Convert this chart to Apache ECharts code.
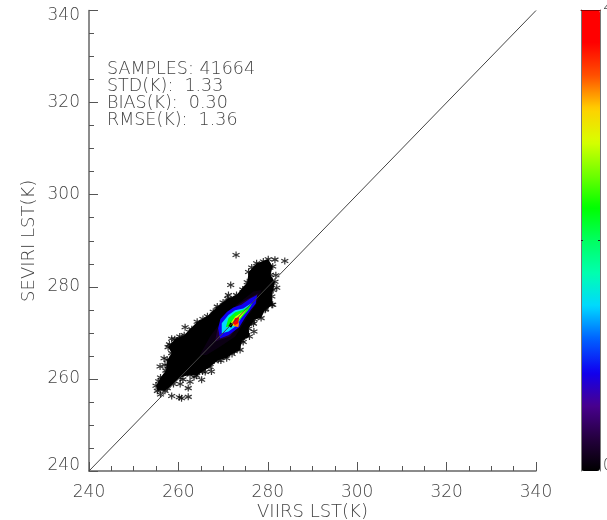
<!DOCTYPE html>
<html>
<head>
<meta charset="utf-8">
<style>
html, body { margin: 0; padding: 0; background: #fff; overflow: hidden; }
#chart { width: 607px; height: 520px; }
</style>
<script src="https://cdn.jsdelivr.net/npm/echarts@6/dist/echarts.min.js"></script>
</head>
<body>
<div id="chart"></div>
<script>
const statLines = ["SAMPLES: 41664", "STD(K):  1.33", "BIAS(K):  0.30", "RMSE(K):  1.36"];
const onePerOne = [[240, 240], [340, 340]];

// outer edge of the black cloud
const cloudEdge = [
    [277.5, 285.1], [280.1, 286.0], [281.1, 284.4], [280.6, 282.6], [281.6, 281.1], [281.2, 279.3],
    [280.9, 277.9], [281.1, 276.1], [279.4, 275.0], [278.5, 273.2], [277.0, 272.9], [275.7, 270.9],
    [275.9, 269.2], [274.2, 268.3], [273.8, 266.3], [272.0, 265.4], [270.8, 264.5], [268.9, 264.1],
    [267.1, 262.6], [265.4, 261.6], [264.1, 260.7], [262.6, 260.9], [260.4, 260.3], [258.9, 258.9],
    [257.0, 257.4], [255.3, 257.4], [255.0, 258.5], [256.0, 260.3], [257.2, 261.8], [257.5, 264.1],
    [258.5, 265.6], [257.7, 266.9], [259.2, 268.6], [261.3, 269.5], [264.2, 272.4], [266.5, 273.6],
    [268.7, 275.7], [271.0, 277.4], [273.0, 278.2], [275.4, 281.0], [275.7, 283.2]
];
const strayStars = [
    [272.9, 286.9], [283.8, 285.6], [281.6, 285.9], [271.7, 280.4], [271.2, 278.2], [261.5, 271.2],
    [258.5, 268.7], [255.9, 262.7], [256.8, 264.5], [276.9, 270.3], [280.9, 276.1], [262.6, 259.4],
    [262.2, 258.0], [260.4, 258.9], [262.2, 256.1], [260.2, 256.0], [258.5, 256.3], [260.7, 255.8],
    [265.2, 259.8], [267.4, 261.6], [279.0, 285.5], [281.8, 282.5], [282.0, 279.8], [279.5, 275.2],
    [276.8, 272.0], [274.5, 268.0], [272.5, 266.0], [269.5, 264.0], [266.0, 261.5], [263.5, 260.4],
    [261.0, 259.9], [257.5, 258.0], [256.0, 256.6], [255.6, 259.5], [257.0, 263.0], [258.0, 267.5],
    [260.3, 269.2], [263.0, 270.8], [265.5, 273.0], [267.8, 274.6], [270.0, 276.6], [274.4, 279.4],
    [276.4, 284.2], [278.5, 284.0], [279.6, 280.5], [280.2, 277.3], [277.6, 274.5], [276.4, 272.3],
    [274.8, 269.7], [272.6, 267.1], [270.2, 265.3], [268.0, 264.0], [266.0, 262.8], [264.5, 261.8],
    [262.0, 261.4], [260.0, 261.0], [258.2, 260.0], [256.6, 258.4], [257.8, 262.8], [258.8, 264.6],
    [258.6, 267.2], [260.2, 268.6], [262.5, 270.2], [264.8, 271.8], [267.0, 273.2], [269.2, 275.2],
    [271.5, 276.8], [273.6, 277.8], [275.2, 279.6], [276.6, 282.0], [277.8, 283.8]
];

const haloOuter = [
    [264.8, 265.2], [267.1, 269.2], [269.3, 272.1], [273.0, 276.1], [276.8, 279.0], [278.6, 279.3],
    [277.5, 276.4], [275.3, 273.2], [272.7, 269.2], [269.3, 267.0], [266.3, 265.2]
];
const haloInner = [
    [268.2, 268.1], [268.7, 270.6], [271.2, 274.6], [274.5, 276.8], [277.9, 278.6], [276.8, 276.4],
    [274.5, 272.8], [271.5, 269.2]
];
const blueZone = [
    [269.3, 268.8], [268.9, 271.0], [269.4, 273.0], [270.9, 274.6], [272.3, 275.5], [274.1, 276.1],
    [276.0, 277.4], [277.6, 278.2], [277.3, 276.3], [276.2, 275.0], [274.9, 273.3], [273.6, 271.2], [271.2, 269.5]
];
const cyanZone = [
    [269.7, 269.9], [269.7, 272.1], [271.2, 273.9], [272.7, 274.9], [274.5, 275.3], [276.6, 276.6],
    [275.8, 275.3], [274.3, 273.7], [273.2, 271.7], [271.2, 270.3]
];
const greenZone = [
    [270.6, 271.2], [271.2, 273.2], [272.7, 274.5], [274.5, 275.0], [276.4, 276.2], [275.5, 274.8],
    [273.8, 272.9], [272.5, 271.6]
];
const yellowZone = [[271.4, 271.7], [272.7, 273.5], [275.3, 275.1], [273.8, 273.2], [272.4, 271.5]];
const orangeZone = [[272.4, 271.5], [273.4, 271.2], [273.6, 272.2], [272.3, 272.2]];
const redZone = [[272.1, 272.1], [272.7, 273.2], [273.6, 273.4], [273.4, 272.1], [272.7, 271.7]];
const blackSpot = [[271.2, 271.5], [271.7, 272.3], [272.2, 271.8], [271.8, 271.1]];

const densityZones = [cloudEdge, haloOuter, haloInner, blueZone, cyanZone, greenZone, yellowZone, orangeZone, redZone, blackSpot];
const densityLevels = [0, 0.15, 0.45, 1.5, 2.5, 3.9, 5.0, 5.8, 6.5, 0];

const barColors = [
    "#000000", "#25003f", "#480090", "#1000f0", "#0060ff", "#00d8ff", "#00ffb0", "#00ff60",
    "#00ff00", "#70ff00", "#d8ff00", "#ffd000", "#ff5000", "#ff0000", "#ff0000"
];
const barMin = 0;
const barMax = 7;
const barMidTick = [3.5];
const barEnds = [0, 7];
// only the left edge of the top label shows in the window
const barEndLabels = { 0: "0", 7: "2" };

const textColor = "#444";
const axisFont = "'DejaVu Sans Light', 'DejaVu Sans'";
const asterisk = "path://M0,-5L0,5M-4.33,-2.5L4.33,2.5M-4.33,2.5L4.33,-2.5";

const chart = echarts.init(document.getElementById("chart"));

function plotAxis(name, gap) {
    return {
        type: "value",
        min: 240,
        max: 340,
        interval: 20,
        name: name,
        nameLocation: "middle",
        nameGap: gap,
        nameMoveOverlap: false,
        nameTextStyle: { color: textColor, fontFamily: axisFont, fontSize: 18 },
        splitLine: { show: false },
        axisLine: { onZero: false, lineStyle: { color: "#666", width: 1.5 } },
        axisTick: { inside: true, length: 9, lineStyle: { color: "#555" } },
        minorTick: { show: true, splitNumber: 4, length: 5, lineStyle: { color: "#555" } },
        axisLabel: { color: textColor, fontFamily: axisFont, fontSize: 17, margin: 9 }
    };
}

function barSideAxis(position, showLabel) {
    return {
        type: "value",
        gridIndex: 1,
        position: position,
        min: barMin,
        max: barMax,
        z: 6,
        splitLine: { show: false },
        axisLine: { onZero: false, lineStyle: { color: "#777", width: 1 } },
        axisTick: { inside: true, length: 2, customValues: barMidTick, lineStyle: { color: "#222" } },
        axisLabel: {
            show: showLabel,
            customValues: barEnds,
            color: textColor,
            fontFamily: axisFont,
            fontSize: 15,
            lineHeight: 10,
            margin: 3,
            align: "left",
            verticalAlign: "bottom",
            formatter: v => barEndLabels[v]
        }
    };
}

function barEndAxis(position, color) {
    return {
        type: "value",
        gridIndex: 1,
        position: position,
        min: 0,
        max: 1,
        z: 6,
        splitLine: { show: false },
        axisLine: { onZero: false, lineStyle: { color: color, width: 1 } },
        axisTick: { show: false },
        axisLabel: { show: false }
    };
}

const plotX = plotAxis("VIIRS LST(K)", 32);
plotX.axisLabel.margin = 13;
const plotY = plotAxis("SEVIRI LST(K)", 51);
plotY.axisLabel.lineHeight = 11;
plotY.axisLabel.verticalAlign = "middle";
plotY.axisLabel.verticalAlignMaxLabel = "top";
plotY.axisLabel.verticalAlignMinLabel = "bottom";

const option = {
    animation: false,
    backgroundColor: "#fff",
    grid: [
        { left: 89, right: 71, top: 10.5, bottom: 49, outerBoundsMode: "none" },
        { left: 581, width: 19, top: 10, height: 461, outerBoundsMode: "none" }
    ],
    xAxis: [plotX, barEndAxis("top", "#8a0000")],
    yAxis: [plotY, barSideAxis("right", true), barSideAxis("left", false)],
    visualMap: {
        type: "continuous",
        seriesIndex: 0,
        dimension: 1,
        min: barMin,
        max: barMax,
        left: 581,
        top: 10,
        padding: 0,
        itemWidth: 19,
        itemHeight: 461,
        calculable: false,
        hoverLink: false,
        text: null,
        showLabel: false,
        inRange: { color: barColors }
    },
    graphic: statLines.map((line, i) => ({
        type: "text",
        left: 107,
        top: 60.5 + i * 17,
        style: { text: line, fill: textColor, font: "17.5px 'DejaVu Sans Light', 'DejaVu Sans'" }
    })),
    series: [
        {
            type: "custom",
            name: "density",
            xAxisIndex: 0,
            yAxisIndex: 0,
            z: 3,
            silent: true,
            data: densityLevels.map((v, i) => [i, v]),
            renderItem: function (params, api) {
                const zone = densityZones[api.value(0)];
                return {
                    type: "polygon",
                    shape: { points: zone.map(p => api.coord(p)) },
                    style: { fill: api.visual("color") }
                };
            }
        },
        {
            type: "scatter",
            name: "stars",
            xAxisIndex: 0,
            yAxisIndex: 0,
            z: 2,
            silent: true,
            symbol: asterisk,
            symbolSize: 7,
            itemStyle: { color: "transparent", borderColor: "#000", borderWidth: 1.2 },
            data: cloudEdge.concat(strayStars)
        },
        {
            type: "line",
            name: "1:1",
            xAxisIndex: 0,
            yAxisIndex: 0,
            z: 4,
            silent: true,
            showSymbol: false,
            lineStyle: { color: "#444", width: 1 },
            data: onePerOne
        }
    ]
};

chart.setOption(option);
</script>
</body>
</html>
